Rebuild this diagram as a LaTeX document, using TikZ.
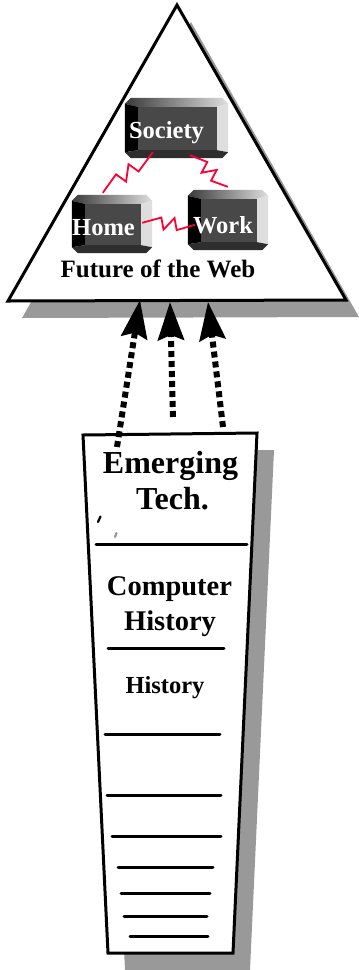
\documentclass[tikz,border=0pt]{standalone}
\usepackage{fontspec}
\setmainfont{Liberation Serif}
\usetikzlibrary{calc,arrows.meta}

\definecolor{shadowgray}{HTML}{999999}
\definecolor{boltred}{HTML}{FF0033}
\definecolor{facegray}{HTML}{484848}
\definecolor{bottomgray}{HTML}{2E2E2E}
\definecolor{lightbevel}{HTML}{DEDEDE}
\definecolor{topdark}{HTML}{3A3A3A}

\tikzset{
  outline/.style={line width=3pt, line join=miter},
  keyframe/.style={draw=none, inner sep=0pt},
  keylabel/.style={text=white, font=\bfseries\fontsize{24.5}{26}\selectfont, inner sep=0pt, anchor=base},
  title/.style={font=\bfseries\fontsize{25}{27}\selectfont, inner sep=0pt, anchor=base},
  bigtext/.style={font=\bfseries\fontsize{32}{34}\selectfont, inner sep=0pt, anchor=base},
  midtext/.style={font=\bfseries\fontsize{28.5}{30}\selectfont, inner sep=0pt, anchor=base},
  smalltext/.style={font=\bfseries\fontsize{24.5}{26}\selectfont, inner sep=0pt, anchor=base},
  rule/.style={line width=3pt, line cap=round},
  boltline/.style={boltred, line width=1.8pt, line join=miter},
  dasharrow/.style={line width=6pt, dash pattern=on 6pt off 4pt,
    -{Stealth[length=38pt, width=26pt, inset=5pt]}},
}

% bevelled key: left black side, shaded top, light right side, dark bottom
\newcommand\bevels[1]{%
  \coordinate (#1A) at ($(#1.north west)+(0,6)$);
  \coordinate (#1B) at ($(#1.north west)+(6,0)$);
  \coordinate (#1C) at ($(#1.north east)+(-6,0)$);
  \coordinate (#1D) at ($(#1.north east)+(0,6)$);
  \coordinate (#1E) at ($(#1.south east)+(0,-6)$);
  \coordinate (#1F) at ($(#1.south east)+(-6,0)$);
  \coordinate (#1G) at ($(#1.south west)+(6,0)$);
  \coordinate (#1H) at ($(#1.south west)+(0,-6)$);
  \coordinate (#1P) at ($(#1.north west)+(13,9)$);
  \coordinate (#1Q) at ($(#1.north east)+(-11,9)$);
  \coordinate (#1R) at ($(#1.south east)+(-11,-8)$);
  \coordinate (#1S) at ($(#1.south west)+(13,-8)$);
  \shade[left color=topdark, right color=lightbevel]
    (#1A) -- (#1B) -- (#1C) -- (#1D) -- (#1Q) -- (#1P) -- cycle;
  \fill[lightbevel] (#1D) -- (#1E) -- (#1R) -- (#1Q) -- cycle;
  \fill[bottomgray] (#1H) -- (#1S) -- (#1R) -- (#1E) -- (#1F) -- (#1G) -- cycle;
  \fill[black] (#1A) -- (#1P) -- (#1S) -- (#1H) -- cycle;
  \fill[facegray] (#1P) -- (#1Q) -- (#1R) -- (#1S) -- cycle;
}

% zig-zag lightning link between two points
\newcommand\bolt[2]{%
  \draw[boltline] (#1)
    -- ($(#1)!0.36!(#2)!6pt!90:(#2)$)
    -- ($(#1)!0.41!(#2)!6pt!-90:(#2)$)
    -- ($(#1)!0.61!(#2)!6pt!90:(#2)$)
    -- ($(#1)!0.66!(#2)!6pt!-90:(#2)$)
    -- (#2);
}

\begin{document}
\begin{tikzpicture}[x=1pt, y=-1pt]
  \useasboundingbox (0,0) rectangle (359,970);

  % ---- triangle: Future of the Web ----
  \fill[shadowgray] (191,22) -- (359,317) -- (22,318) -- cycle;
  \draw[outline, fill=white] (177,5) -- (346,300) -- (8,301) -- cycle;

  \node[keyframe, minimum width=103pt, minimum height=60pt] (societybox) at (176.5,128) {};
  \node[keyframe, minimum width=80pt, minimum height=58pt] (homebox) at (112,224) {};
  \node[keyframe, minimum width=80pt, minimum height=60pt] (workbox) at (228,220) {};
  \bevels{societybox}
  \bevels{homebox}
  \bevels{workbox}

  \node[keylabel] (society) at (166.5,138) {Society};
  \node[keylabel] (home) at (103.5,235) {Home};
  \node[keylabel] (work) at (223,233) {Work};

  \coordinate (sh1) at ($(societybox.south west)+(28,-6)$);
  \coordinate (sh2) at ($(homebox.north west)+(31,-2)$);
  \coordinate (sw1) at ($(societybox.south west)+(65,-3)$);
  \coordinate (sw2) at ($(workbox.north west)+(40,-3)$);
  \coordinate (hw1) at ($(homebox.north east)+(-10,28)$);
  \coordinate (hw2) at ($(workbox.north west)+(7,35)$);
  \bolt{sh1}{sh2}
  \bolt{sw1}{sw2}
  \bolt{hw1}{hw2}

  \node[title] (web) at (158,277) {Future of the Web};

  % ---- stack of topics ----
  \fill[shadowgray] (100,450) -- (274,450) -- (250,970) -- (125,970) -- cycle;
  \draw[outline, fill=white] (83,435) -- (257,433) -- (233,953) -- (108,953) -- cycle;

  \node[bigtext] (emerging) at (170.5,473) {Emerging};
  \node[bigtext] (tech) at (172.5,509) {Tech.};
  \draw[line width=2.2pt, line cap=round] (100.5,516.5) -- (98,522);
  \draw[shadowgray, line width=2.2pt, line cap=round] (116.5,533) -- (115,537);
  \draw[rule] (96,544) -- (247,544);
  \node[midtext] (computer) at (169.5,595) {Computer};
  \node[midtext] (history) at (170,630) {History};
  \draw[rule] (108,648) -- (224,648);
  \node[smalltext] (historysub) at (165,693) {History};
  \draw[rule] (105,734) -- (220,734);
  \draw[rule] (107,795) -- (221,795);
  \draw[rule] (112,836) -- (221,836);
  \draw[rule] (118,867) -- (213,867);
  \draw[rule] (121,893) -- (210,893);
  \draw[rule] (124,916) -- (207,916);
  \draw[rule] (130,936) -- (208,936);

  % ---- arrows from the stack up into the triangle ----
  \coordinate (a1s) at (117,447);
  \coordinate (a1e) at (140,300);
  \coordinate (a2s) at (173,417);
  \coordinate (a2e) at (170,302);
  \coordinate (a3s) at (223,427);
  \coordinate (a3e) at (208,302);
  \draw[dasharrow] (a1s) -- (a1e);
  \draw[dasharrow] (a2s) -- (a2e);
  \draw[dasharrow] (a3s) -- (a3e);
\end{tikzpicture}
\end{document}
